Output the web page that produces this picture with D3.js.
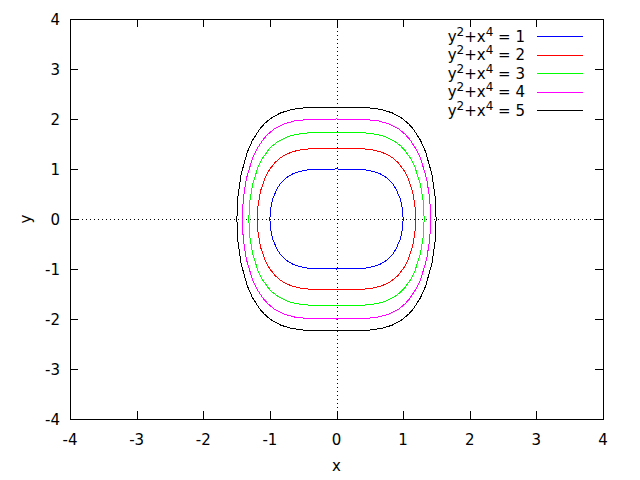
<!DOCTYPE html>
<html><head><meta charset="utf-8">
<script src="https://cdn.jsdelivr.net/npm/d3@7"></script>
<style>body{margin:0;background:#fff}text{font-family:"DejaVu Sans",sans-serif;font-size:15px;fill:#000}</style>
</head><body><svg id="c" width="640" height="480"></svg>
<script>
const levels = [1, 2, 3, 4, 5];
const colors = ["#0000ff", "#ff0000", "#00ff00", "#ff00ff", "#000000"];
const xTicks = [-4, -3, -2, -1, 0, 1, 2, 3, 4];
const yTicks = [-4, -3, -2, -1, 0, 1, 2, 3, 4];
// first-quadrant contour points (curves are symmetric)
const c1x = [1.000, 0.990, 0.957, 0.894, 0.845, 0.775, 0.726, 0.660, 0.559, 0.446, 0.316, 0];
const c1y = [0, 0.200, 0.400, 0.600, 0.700, 0.800, 0.850, 0.900, 0.950, 0.980, 0.995, 1.000];
const c2x = [1.189, 1.177, 1.139, 1.064, 1.005, 0.921, 0.863, 0.785, 0.665, 0.531, 0.376, 0];
const c2y = [0, 0.283, 0.566, 0.849, 0.990, 1.131, 1.202, 1.273, 1.344, 1.386, 1.407, 1.414];
const c3x = [1.316, 1.303, 1.260, 1.177, 1.112, 1.019, 0.955, 0.869, 0.735, 0.587, 0.416, 0];
const c3y = [0, 0.346, 0.693, 1.039, 1.212, 1.386, 1.472, 1.559, 1.645, 1.697, 1.723, 1.732];
const c4x = [1.414, 1.400, 1.354, 1.265, 1.195, 1.095, 1.026, 0.934, 0.790, 0.631, 0.447, 0];
const c4y = [0, 0.400, 0.800, 1.200, 1.400, 1.600, 1.700, 1.800, 1.900, 1.960, 1.990, 2.000];
const c5x = [1.495, 1.480, 1.432, 1.337, 1.264, 1.158, 1.085, 0.987, 0.836, 0.667, 0.473, 0];
const c5y = [0, 0.447, 0.894, 1.342, 1.565, 1.789, 1.901, 2.012, 2.124, 2.191, 2.225, 2.236];
const curvesX = [c1x, c2x, c3x, c4x, c5x];
const curvesY = [c1y, c2y, c3y, c4y, c5y];

const svg = d3.select("#c");
const L = 70, R = 603, T = 19, B = 419;
const x = d3.scaleLinear().domain([-4, 4]).range([L, R]);
const y = d3.scaleLinear().domain([-4, 4]).range([B, T]);
const tk = 8;

// zero axes
svg.append("line").attr("x1", Math.round(x(0)) + 0.5).attr("x2", Math.round(x(0)) + 0.5).attr("y1", T).attr("y2", B)
  .attr("stroke", "#000").attr("stroke-dasharray", "1,3");
svg.append("line").attr("x1", L).attr("x2", R).attr("y1", y(0) + 0.5).attr("y2", y(0) + 0.5)
  .attr("stroke", "#000").attr("stroke-dasharray", "1,3");

// axes with inward ticks on all sides
const ax = (g, gen) => { g.call(gen); g.select(".domain").remove(); g.selectAll("text").remove();
  g.selectAll("line").attr("shape-rendering", "crispEdges"); };
svg.append("g").attr("transform", `translate(0,${B})`).call(g => ax(g, d3.axisTop(x).tickValues(xTicks).tickSize(tk)));
svg.append("g").attr("transform", `translate(0,${T})`).call(g => ax(g, d3.axisBottom(x).tickValues(xTicks).tickSize(tk)));
svg.append("g").attr("transform", `translate(${L},0)`).call(g => ax(g, d3.axisRight(y).tickValues(yTicks).tickSize(tk)));
svg.append("g").attr("transform", `translate(${R},0)`).call(g => ax(g, d3.axisLeft(y).tickValues(yTicks).tickSize(tk)));
svg.append("rect").attr("x", L + 0.5).attr("y", T + 0.5).attr("width", R - L).attr("height", B - T)
  .attr("fill", "none").attr("stroke", "#000");

svg.append("g").selectAll("text").data(xTicks).join("text")
  .attr("x", d => x(d)).attr("y", B + 26).attr("text-anchor", "middle").text(d => d);
svg.append("g").selectAll("text").data(yTicks).join("text")
  .attr("x", L - 10).attr("y", d => y(d) + 5.5).attr("text-anchor", "end").text(d => d);
svg.append("text").attr("x", x(0)).attr("y", 471).attr("text-anchor", "middle").text("x");
svg.append("text").attr("transform", `translate(31,${y(0)}) rotate(-90)`).attr("text-anchor", "middle").text("y");

// contours
const line = d3.line().x(d => x(d[0])).y(d => y(d[1])).curve(d3.curveLinearClosed);
levels.forEach((lv, i) => {
  const xs = curvesX[i], ys = curvesY[i], n = xs.length;
  const pts = [];
  for (let k = 0; k < n; k++) pts.push([xs[k], ys[k]]);
  for (let k = n - 2; k >= 0; k--) pts.push([-xs[k], ys[k]]);
  for (let k = 1; k < n; k++) pts.push([-xs[k], -ys[k]]);
  for (let k = n - 2; k > 0; k--) pts.push([xs[k], -ys[k]]);
  svg.append("path").attr("d", line(pts)).attr("fill", "none").attr("stroke", colors[i])
    .attr("stroke-width", 1).attr("shape-rendering", "crispEdges");
});

// legend
const lg = svg.append("g");
levels.forEach((lv, i) => {
  const yy = 36 + i * 18.5;
  const t = lg.append("text").attr("x", 525).attr("y", yy + 5.5).attr("text-anchor", "end");
  t.append("tspan").text("y");
  t.append("tspan").attr("dy", -6).attr("font-size", "12px").text("2");
  t.append("tspan").attr("dy", 6).text("+x");
  t.append("tspan").attr("dy", -6).attr("font-size", "12px").text("4");
  t.append("tspan").attr("dy", 6).text(" = " + lv);
  lg.append("line").attr("x1", 537).attr("x2", 583).attr("y1", Math.round(yy) + 0.5).attr("y2", Math.round(yy) + 0.5)
    .attr("stroke", colors[i]);
});
</script></body></html>
